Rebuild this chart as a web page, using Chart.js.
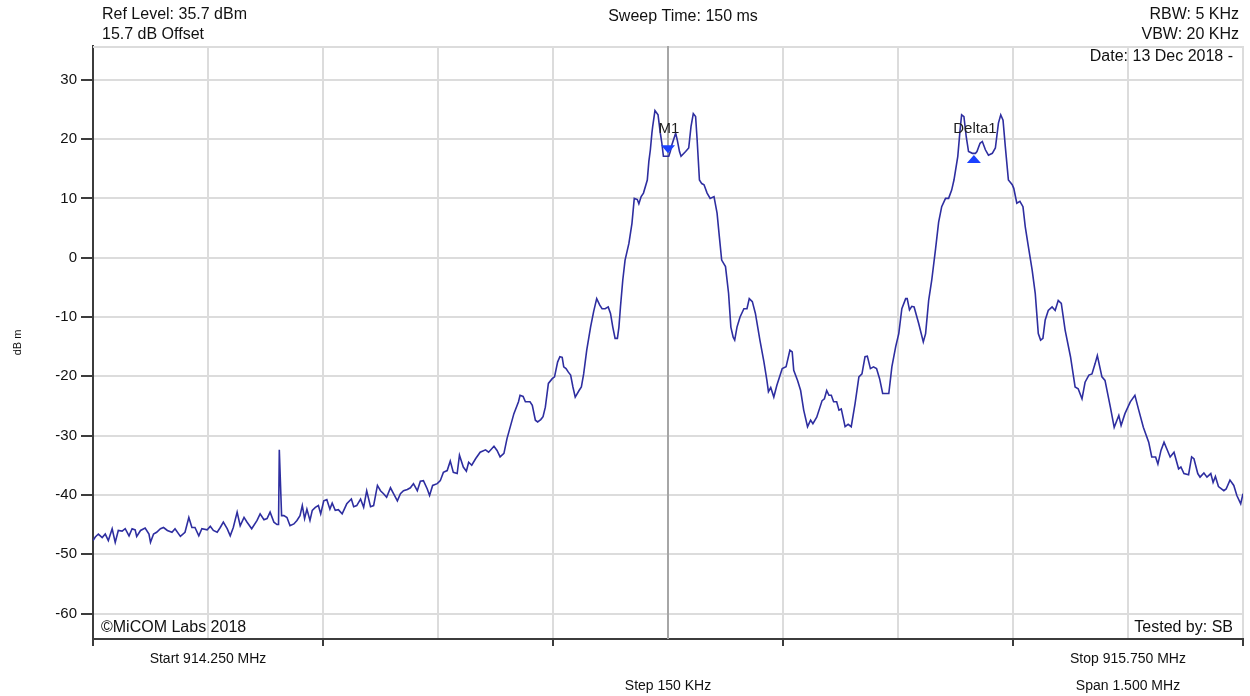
<!DOCTYPE html>
<html><head><meta charset="utf-8">
<script src="https://cdn.jsdelivr.net/npm/chart.js@4"></script>
<style>html,body{margin:0;padding:0;background:#fff}canvas{display:block}</style>
</head><body>
<canvas id="c" width="1250" height="696"></canvas>
<script>
// ---- data ----
const startMHz = 914.250, stopMHz = 915.750, stepKHz = 150, spanMHz = 1.500;
const refLevelDbm = 35.7, bottomDbm = -64.3;
// frequency offset from start (kHz)
const offsetKHz = [
0,3,7,12,16,20,25,29,33,38,
42,47,51,55,57,62,68,73,75,79,
83,88,92,97,103,107,114,120,125,129,
133,138,142,149,153,157,162,166,170,175,
179,183,188,192,197,201,207,214,218,223,
227,231,236,240,242,243,246,249,253,257,
262,266,270,273,276,279,283,286,290,294,
297,301,305,309,312,316,320,325,331,337,
340,344,349,353,357,362,366,371,375,379,
383,388,392,397,401,405,410,414,418,423,
427,431,436,439,443,449,453,457,462,466,
470,475,478,483,487,490,494,499,505,512,
516,523,527,531,536,540,549,555,557,561,
564,570,573,577,580,584,587,590,594,599,
602,606,609,612,614,617,620,623,626,629,
634,637,640,644,649,653,657,661,664,668,
672,675,678,681,684,686,688,691,694,699,
703,706,710,712,715,718,723,725,727,729,
730,733,737,740,742,744,748,751,753,755,
760,762,765,767,773,777,780,783,786,788,
791,794,797,801,805,810,814,817,820,825,
829,832,835,837,840,844,849,853,856,860,
864,870,875,879,881,884,888,892,899,904,
909,912,914,919,923,927,932,936,939,944,
951,954,957,960,963,966,970,973,976,981,
985,989,994,999,1003,1007,1010,1014,1018,1022,
1026,1030,1035,1038,1042,1047,1051,1055,1060,1062,
1065,1068,1071,1077,1083,1086,1090,1094,1099,1103,
1107,1112,1116,1120,1123,1128,1131,1133,1136,1139,
1142,1147,1151,1153,1157,1160,1164,1168,1173,1177,
1181,1184,1187,1190,1194,1199,1201,1205,1209,1213,
1216,1220,1225,1229,1233,1236,1239,1242,1246,1251,
1255,1259,1263,1268,1275,1281,1285,1290,1294,1299,
1303,1307,1310,1316,1320,1327,1332,1338,1341,1346,
1353,1359,1364,1370,1377,1381,1386,1389,1393,1397,
1405,1410,1416,1419,1423,1429,1433,1436,1441,1444,
1449,1453,1458,1461,1464,1468,1475,1478,1483,1488,
1492,1497,1500
];
// trace level (dBm)
const levelDbm = [
-47.7,-47.1,-46.6,-47.2,-46.6,-47.7,-45.7,-48.0,-46.0,-46.1,
-45.7,-46.9,-45.7,-45.9,-47.0,-46.0,-45.6,-46.6,-48.0,-46.6,
-46.3,-45.7,-45.5,-46.0,-46.3,-45.7,-47.0,-46.3,-43.8,-45.5,
-45.5,-46.9,-45.7,-45.9,-45.3,-46.0,-46.3,-45.5,-44.6,-45.7,
-46.9,-45.5,-42.9,-45.2,-43.8,-44.6,-45.7,-44.3,-43.2,-44.2,
-44.0,-42.9,-44.6,-45.0,-45.0,-32.4,-43.5,-43.5,-43.8,-45.2,
-44.9,-44.3,-43.5,-41.8,-44.0,-42.4,-44.3,-42.6,-42.1,-41.8,
-43.2,-41.0,-40.8,-42.4,-41.4,-42.6,-42.5,-43.2,-41.5,-40.7,
-42.0,-41.8,-40.7,-42.1,-39.3,-42.0,-41.8,-38.4,-39.3,-39.8,
-40.4,-38.8,-39.8,-41.0,-39.8,-39.3,-39.1,-38.8,-38.1,-39.3,
-37.7,-37.6,-39.0,-40.1,-38.4,-38.1,-37.6,-36.2,-35.9,-34.3,
-36.2,-36.4,-33.3,-35.3,-36.0,-34.5,-35.0,-33.9,-32.8,-32.4,
-32.8,-31.8,-32.5,-33.6,-33.0,-30.5,-26.3,-24.3,-23.2,-23.4,
-24.3,-24.3,-24.9,-27.4,-27.7,-27.3,-26.8,-25.2,-21.2,-20.4,
-20.1,-17.6,-16.7,-16.8,-18.4,-18.7,-19.3,-19.8,-21.8,-23.5,
-22.4,-21.8,-19.6,-15.6,-11.7,-9.1,-6.9,-8.0,-8.6,-8.6,
-8.3,-9.4,-11.7,-13.6,-13.6,-11.7,-8.3,-3.8,-0.4,2.4,
5.8,10.0,9.8,9.1,10.3,10.9,13.1,16.2,18.2,21.0,
22.1,24.8,24.1,21.0,19.3,17.1,17.1,17.1,17.9,19.0,
21.0,19.9,17.9,17.1,17.9,18.5,22.1,24.3,23.8,19.9,
13.1,12.5,12.3,10.9,10.0,10.3,7.5,3.5,-0.4,-1.5,
-6.0,-11.7,-13.4,-13.9,-11.7,-10.0,-8.6,-8.6,-6.9,-7.4,
-9.4,-14.0,-17.5,-20.7,-22.6,-21.9,-23.5,-21.5,-18.7,-18.4,
-15.6,-15.9,-19.0,-20.7,-22.4,-25.7,-28.5,-27.4,-28.0,-26.9,
-24.1,-23.8,-22.4,-23.2,-23.2,-24.3,-24.3,-25.7,-25.5,-28.5,
-28.1,-28.5,-24.6,-20.1,-19.6,-16.7,-16.6,-18.7,-18.4,-18.7,
-20.4,-22.9,-22.9,-22.9,-18.4,-15.0,-12.8,-8.6,-6.9,-6.9,
-8.8,-8.2,-8.3,-11.1,-14.2,-12.8,-7.2,-3.8,1.5,6.0,
8.6,10.0,10.0,11.4,13.1,17.1,21.6,24.1,23.8,20.4,
17.9,17.6,17.6,17.9,19.3,19.6,18.2,17.3,17.6,18.5,
22.7,24.1,23.2,18.7,13.1,12.3,11.7,9.2,9.5,8.6,
5.2,1.9,-2.1,-6.0,-12.8,-13.9,-13.6,-10.5,-8.9,-8.3,
-8.9,-7.2,-7.7,-12.2,-16.7,-21.8,-22.1,-23.8,-21.0,-19.8,
-19.6,-17.9,-16.5,-20.1,-20.7,-25.2,-28.6,-26.6,-28.3,-26.3,
-24.3,-23.2,-25.7,-28.6,-31.1,-33.6,-33.6,-34.8,-32.5,-31.1,
-33.6,-32.8,-35.6,-35.3,-36.4,-36.6,-33.6,-33.9,-36.4,-37.0,
-36.3,-37.0,-36.4,-37.9,-36.9,-38.6,-39.3,-39.0,-37.5,-38.4,
-40.1,-41.5,-39.8
];
const yTicks = [30,20,10,0,-10,-20,-30,-40,-50,-60];
const xGridKHz = [0,150,300,450,600,750,900,1050,1200,1350,1500];
const xMajorKHz = [0,300,600,900,1200,1500];
const xTickLabels = {
  150: ['Start 914.250 MHz'],
  750: ['', 'Step 150 KHz'],
  1350: ['Stop 915.750 MHz', 'Span 1.500 MHz']
};
const markerNames = ['M1', 'Delta1'];
const markerKHz = [750, 1149];
const markerDbm = [17.6, 17.3];
const markerDir = ['down', 'up'];
const headerLeft = ['Ref Level: 35.7 dBm', '15.7 dB Offset'];
const headerCenter = 'Sweep Time: 150 ms';
const headerRight = ['RBW: 5 KHz', 'VBW: 20 KHz', 'Date: 13 Dec 2018 -'];
const footerLeft = '\u00A9MiCOM Labs 2018';
const footerRight = 'Tested by: SB';
const yTitle = 'dB m';

// ---- style ----
const FONT = '"Liberation Sans", Arial, sans-serif';
const GRID = '#dcdcdc';
const AXIS = '#3c3c3c';
const TRACE = '#2e2ea0';
const MARK = '#1a40ff';

const n = Math.min(offsetKHz.length, levelDbm.length);
const points = [];
for (let i = 0; i < n; i++) points.push({x: offsetKHz[i], y: levelDbm[i]});

const annot = {
  id: 'annot',
  beforeDatasetsDraw(chart) {
    const {ctx, chartArea: a, scales: {x}} = chart;
    ctx.save();
    ctx.lineWidth = 2;
    ctx.strokeStyle = GRID;
    ctx.beginPath(); ctx.moveTo(a.left, a.top + 1); ctx.lineTo(a.right, a.top + 1); ctx.stroke();
    const mx = Math.round(x.getPixelForValue(markerKHz[0]));
    ctx.strokeStyle = '#a6a6a6';
    ctx.beginPath(); ctx.moveTo(mx, a.top); ctx.lineTo(mx, a.bottom); ctx.stroke();
    ctx.restore();
  },
  afterDatasetsDraw(chart) {
    const {ctx, scales: {x, y}} = chart;
    ctx.save();
    for (let i = 0; i < markerNames.length; i++) {
      const px = x.getPixelForValue(markerKHz[i]);
      const py = y.getPixelForValue(markerDbm[i]);
      const hw = 7, h = 8;
      ctx.fillStyle = MARK;
      ctx.beginPath();
      if (markerDir[i] === 'down') {
        ctx.moveTo(px, py); ctx.lineTo(px - hw, py - h); ctx.lineTo(px + hw, py - h);
      } else {
        ctx.moveTo(px, py); ctx.lineTo(px - hw, py + h); ctx.lineTo(px + hw, py + h);
      }
      ctx.closePath(); ctx.fill();
      ctx.fillStyle = '#1e1e1e';
      ctx.font = '15px ' + FONT;
      ctx.textAlign = 'center';
      ctx.textBaseline = 'middle';
      ctx.fillText(markerNames[i], px + 1, 129);
    }
    ctx.restore();
  },
  afterDraw(chart) {
    const {ctx, chartArea: a} = chart;
    ctx.save();
    ctx.fillStyle = '#111';
    ctx.font = '16px ' + FONT;
    ctx.textBaseline = 'middle';
    ctx.textAlign = 'left';
    ctx.fillText(headerLeft[0], 102, 15);
    ctx.fillText(headerLeft[1], 102, 35);
    ctx.fillText(footerLeft, 101, 628);
    ctx.textAlign = 'center';
    ctx.fillText(headerCenter, 683, 17);
    ctx.textAlign = 'right';
    ctx.fillText(headerRight[0], 1239, 15);
    ctx.fillText(headerRight[1], 1239, 35);
    ctx.fillText(headerRight[2], 1233, 57);
    ctx.fillText(footerRight, 1233, 628);
    ctx.restore();
  }
};

new Chart(document.getElementById('c'), {
  type: 'line',
  data: {
    datasets: [{
      data: points,
      borderColor: TRACE,
      borderWidth: 1.6,
      pointRadius: 0,
      tension: 0,
      fill: false
    }]
  },
  options: {
    responsive: false,
    devicePixelRatio: 1,
    animation: false,
    events: [],
    layout: {padding: {left: 0, top: 46, right: 7, bottom: 0}},
    plugins: {legend: {display: false}, tooltip: {enabled: false}, title: {display: false}},
    scales: {
      x: {
        type: 'linear',
        min: 0, max: 1500,
        afterBuildTicks: (s) => { s.ticks = xGridKHz.map(v => ({value: v})); },
        afterFit: (s) => { s.height = 57; },
        grid: {
          color: GRID, lineWidth: 2, drawTicks: true, tickLength: 7, tickWidth: 2,
          tickColor: (c) => (c.tick && xMajorKHz.includes(c.tick.value)) ? AXIS : 'rgba(0,0,0,0)'
        },
        border: {display: true, color: AXIS, width: 2},
        ticks: {
          autoSkip: false, maxRotation: 0, padding: 0,
          color: '#111',
          font: {family: FONT, size: 14, lineHeight: '27px'},
          callback: (v) => xTickLabels[v] || ''
        }
      },
      y: {
        type: 'linear',
        min: bottomDbm, max: refLevelDbm,
        afterBuildTicks: (s) => { s.ticks = yTicks.map(v => ({value: v})); },
        afterFit: (s) => { s.width = 93; },
        grid: {color: GRID, lineWidth: 2, drawTicks: true, tickLength: 12, tickWidth: 2, tickColor: AXIS},
        border: {display: true, color: AXIS, width: 2},
        ticks: {
          padding: 4, color: '#111',
          font: {family: FONT, size: 15},
          callback: (v) => String(v)
        },
        title: {display: true, text: yTitle, color: '#111', font: {family: FONT, size: 11}, padding: {top: 11, bottom: 0}}
      }
    }
  },
  plugins: [annot]
});
</script>
</body></html>
